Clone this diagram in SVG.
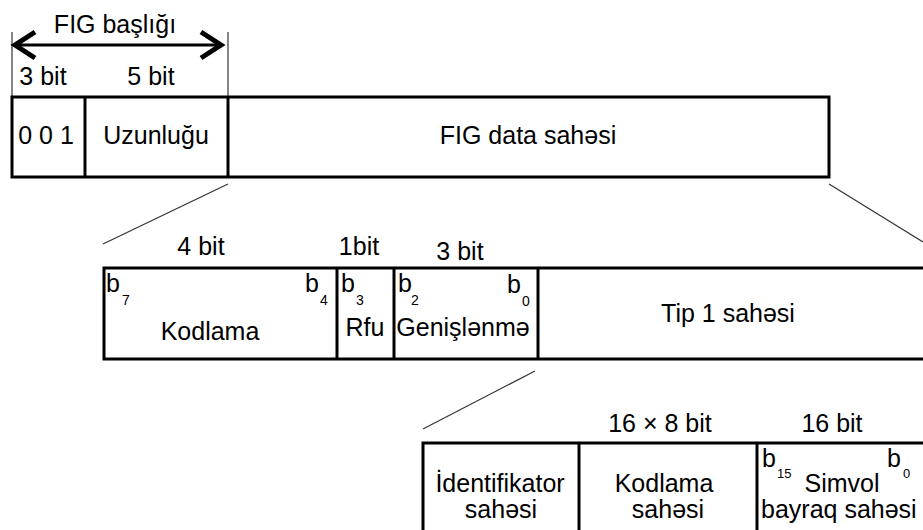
<svg xmlns="http://www.w3.org/2000/svg" width="923" height="530" viewBox="0 0 923 530">
<style>
  text { font-family: "Liberation Sans", Arial, sans-serif; font-size: 25px; fill: #000; }
  .c { text-anchor: middle; }
  .sub { font-size: 14px; }
  .sub2 { font-size: 13px; }
  .box { fill: #fff; stroke: #000; stroke-width: 3; }
  .div { stroke: #000; stroke-width: 3; }
  .thin { stroke: #333; stroke-width: 1.2; fill: none; }
  .arrow { stroke: #000; stroke-width: 3; fill: none; }
  .head { stroke: #000; stroke-width: 5; fill: none; stroke-linecap: butt; stroke-linejoin: miter; }
</style>

<g id="connectors">
  <line class="thin" x1="12" y1="32" x2="12" y2="97"/>
  <line class="thin" x1="228" y1="32" x2="228" y2="97"/>
  <line class="arrow" x1="14" y1="45" x2="222" y2="45"/>
  <polyline class="head" points="35,32 15,45 35,58"/>
  <polyline class="head" points="201,32 221,45 201,58"/>
  <line class="thin" x1="228" y1="184" x2="103" y2="244"/>
  <line class="thin" x1="829" y1="184" x2="923" y2="242"/>
  <line class="thin" x1="535" y1="371" x2="423" y2="429"/>
</g>

<g id="header-labels">
  <text class="c" x="115" y="33">FIG başlığı</text>
  <text class="c" x="43" y="85">3 bit</text>
  <text class="c" x="151" y="85">5 bit</text>
</g>

<g id="fig-row">
  <rect class="box" x="12" y="97" width="817" height="80"/>
  <line class="div" x1="85" y1="97" x2="85" y2="177"/>
  <line class="div" x1="228" y1="97" x2="228" y2="177"/>
  <text class="c" x="46" y="144">0 0 1</text>
  <text class="c" x="156" y="144">Uzunluğu</text>
  <text class="c" x="528" y="144">FIG data sahəsi</text>
</g>

<g id="type1-row">
  <text class="c" x="201" y="255">4 bit</text>
  <text class="c" x="359" y="255">1bit</text>
  <text class="c" x="460" y="260">3 bit</text>
  <rect class="box" x="104" y="268" width="830" height="91"/>
  <line class="div" x1="337" y1="268" x2="337" y2="359"/>
  <line class="div" x1="394" y1="268" x2="394" y2="359"/>
  <line class="div" x1="538" y1="268" x2="538" y2="359"/>
  <text x="106" y="292">b</text><text class="sub" x="122" y="305">7</text>
  <text x="305" y="292">b</text><text class="sub" x="320" y="305">4</text>
  <text x="341" y="292">b</text><text class="sub" x="356" y="305">3</text>
  <text x="398" y="292">b</text><text class="sub" x="411" y="305">2</text>
  <text x="507" y="293">b</text><text class="sub" x="522" y="306">0</text>
  <text class="c" x="210" y="340">Kodlama</text>
  <text class="c" x="365" y="336">Rfu</text>
  <text class="c" x="463" y="336">Genişlənmə</text>
  <text class="c" x="728" y="322">Tip 1 sahəsi</text>
</g>

<g id="ext-row">
  <text class="c" x="660" y="432">16 × 8 bit</text>
  <text class="c" x="832" y="432">16 bit</text>
  <rect class="box" x="423" y="443" width="510" height="100"/>
  <line class="div" x1="579" y1="443" x2="579" y2="543"/>
  <line class="div" x1="757" y1="443" x2="757" y2="543"/>
  <text class="c" x="500" y="492">İdentifikator</text>
  <text class="c" x="501" y="518">sahəsi</text>
  <text class="c" x="664" y="492">Kodlama</text>
  <text class="c" x="668" y="518">sahəsi</text>
  <text x="762" y="467">b</text><text class="sub2" x="777" y="478">15</text>
  <text x="887" y="467">b</text><text class="sub2" x="903" y="478">0</text>
  <text class="c" x="842" y="492">Simvol</text>
  <text x="761" y="518">bayraq sahəsi</text>
</g>
</svg>
